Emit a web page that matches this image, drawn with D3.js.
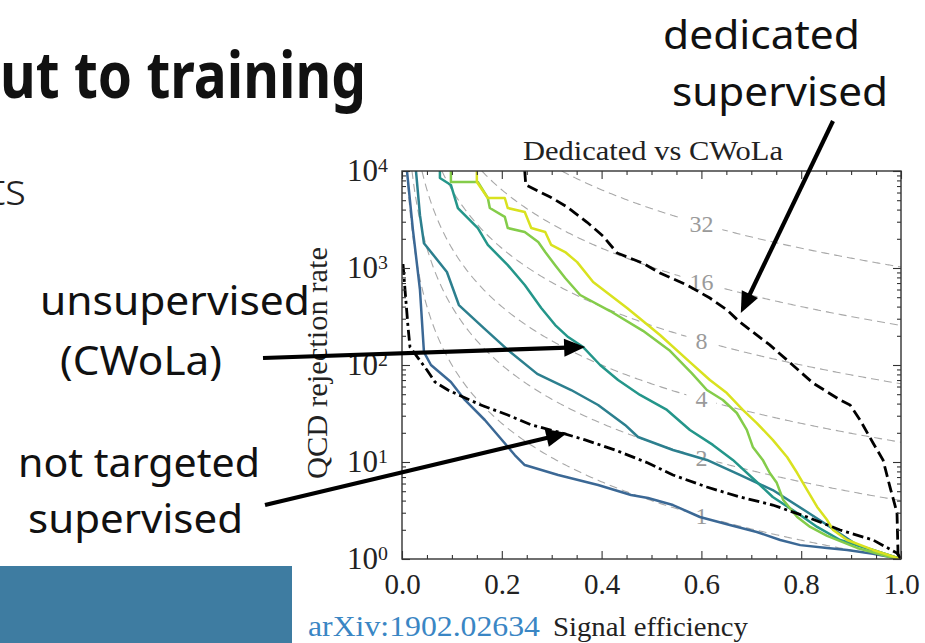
<!DOCTYPE html>
<html>
<head>
<meta charset="utf-8">
<script src="https://cdn.jsdelivr.net/npm/d3@7"></script>
<style>
  body { margin: 0; background: #fff; overflow: hidden; }
</style>
</head>
<body>
<div id="main"></div>
<script>
// ---- data: [signal efficiency, QCD rejection] ----
var cwola1 = [[0.010,10000],[0.022,2450],[0.036,595],[0.044,136],[0.058,100],[0.098,66.8],[0.126,43.6],[0.166,27.1],
  [0.226,11.8],[0.246,9.3],[0.313,7.35],[0.393,5.79],[0.459,4.57],[0.493,4.26],[0.543,3.6],[0.597,2.71],[0.657,2.24],
  [0.711,1.9],[0.758,1.57],[0.798,1.39],[0.852,1.3],[0.892,1.24],[0.944,1.13],[1.0,1.0]];
var cwola2 = [[0.028,10000],[0.036,3500],[0.044,1800],[0.090,910],[0.114,415],[0.164,240],[0.212,143],[0.271,81],
  [0.297,70],[0.339,55.2],[0.393,38.7],[0.447,24.1],[0.473,18.1],[0.543,13.3],[0.611,10.5],[0.677,7.35],[0.743,5.14],
  [0.812,3.05],[0.852,2.24],[0.912,1.39],[1.0,1.0]];
var cwola3 = [[0.076,10000],[0.076,8470],[0.098,7180],[0.112,4150],[0.152,2580],[0.172,1730],[0.212,1070],[0.246,668],
  [0.279,387],[0.307,258],[0.333,194],[0.363,153],[0.397,100],[0.433,70],[0.477,49.1],[0.531,34.4],[0.577,21.4],
  [0.623,15.0],[0.663,10.5],[0.711,6.22],[0.743,4.36],[0.798,2.84],[0.832,2.14],[0.878,1.57],[0.944,1.24],[1.0,1.0]];
var cwola4 = [[0.098,10000],[0.098,7700],[0.152,7700],[0.172,5270],[0.176,4150],[0.206,3360],[0.212,2580],[0.246,2350],
  [0.273,1850],[0.287,1460],[0.307,1070],[0.327,789],[0.357,527],[0.417,360],[0.483,225],[0.537,140],[0.581,82],
  [0.611,55.2],[0.643,43.6],[0.671,32],[0.691,21.4],[0.703,14.3],[0.723,10.5],[0.737,7.7],[0.751,6.1],[0.764,4.06],
  [0.792,2.71],[0.818,2.14],[0.852,1.73],[0.912,1.3],[0.978,1.05],[1.0,1.0]];
var cwola5 = [[0.150,10000],[0.150,7700],[0.172,5270],[0.206,5270],[0.212,4150],[0.246,3780],[0.259,2580],[0.287,2350],
  [0.299,1730],[0.327,1460],[0.351,1150],[0.383,718],[0.451,387],[0.517,204],[0.577,107],[0.617,70],[0.651,51.4],
  [0.683,34.4],[0.711,25.2],[0.743,16.9],[0.772,11.2],[0.792,7.7],[0.812,5.14],[0.832,3.44],[0.852,2.52],[0.864,1.99],
  [0.892,1.57],[0.944,1.24],[1.0,1.0]];
var dedicated = [[0.246,10000],[0.248,7180],[0.297,5400],[0.331,4250],[0.371,2960],[0.403,2130],[0.431,1430],[0.483,1120],
  [0.517,888],[0.571,668],[0.617,490],[0.651,370],[0.677,277],[0.737,161],[0.772,112],[0.824,65],[0.878,43.6],
  [0.898,38.7],[0.918,27.1],[0.944,15.7],[0.964,10.5],[0.978,5.5],[0.992,3.0],[0.994,1.15],[0.996,1.0]];
var notTargeted = [[0.002,1100],[0.006,600],[0.012,250],[0.016,153],[0.050,88.8],[0.066,66.8],[0.092,55.2],[0.158,38.7],
  [0.212,30.5],[0.259,24.1],[0.313,20.4],[0.367,16.9],[0.427,13.3],[0.493,9.77],[0.543,7.35],[0.611,5.52],[0.677,4.36],
  [0.743,3.6],[0.812,2.71],[0.878,1.99],[0.944,1.57],[0.992,1.15],[1.0,1.0]];

var cwolaSeries = [cwola1, cwola2, cwola3, cwola4, cwola5];
var cwolaColors = ["#3b6895", "#2c7f8e", "#24968a", "#84cc4a", "#d9e21f"];

// significance improvement contours eps_S * sqrt(R) = k
var sigLevels = [1, 2, 4, 8, 16, 32];
var sigLabelEff = 0.6;

var xMajor = [0, 0.2, 0.4, 0.6, 0.8, 1.0];
var yMajor = [1, 10, 100, 1000, 10000];

// annotation arrows: tip in data coords, tail in page px
var arrowTips = [[0.679, 344], [0.367, 153], [0.331, 19.9]];
var arrowTails = [[833, 121], [263, 358], [265, 505]];

var W = 925, H = 643;
var plot = {left: 402, right: 901, top: 171, bottom: 559};
var serif = "'Liberation Serif', 'DejaVu Serif', serif";
var sans = "'Noto Sans', 'Open Sans', sans-serif";

var svg = d3.select("#main")
  .append("svg")
    .attr("width", W)
    .attr("height", H);

svg.append("rect").attr("width", W).attr("height", H).attr("fill", "#fff");

var x = d3.scaleLinear().domain([0, 1]).range([plot.left, plot.right]);
var y = d3.scaleLog().domain([1, 1e4]).range([plot.bottom, plot.top]);

svg.append("clipPath").attr("id", "clip")
  .append("rect")
    .attr("x", plot.left).attr("y", plot.top)
    .attr("width", plot.right - plot.left).attr("height", plot.bottom - plot.top);

var line = d3.line()
  .x(function(d) { return x(d[0]); })
  .y(function(d) { return y(d[1]); });

var inner = svg.append("g").attr("clip-path", "url(#clip)");

// contour guides
sigLevels.forEach(function(k) {
  var pts = d3.range(0, 301).map(function(i) {
    var e = k / 100 + (1 - k / 100) * i / 300;
    return [e, (k / e) * (k / e)];
  }).filter(function(d) { return d[0] <= 1; });
  inner.append("path")
    .attr("d", line(pts))
    .attr("fill", "none")
    .attr("stroke", "#a8a8a8")
    .attr("stroke-width", 1.1)
    .attr("stroke-dasharray", "8,5");
});

var labelG = inner.append("g");
sigLevels.forEach(function(k) {
  var cx = x(sigLabelEff), cy = y((k / sigLabelEff) * (k / sigLabelEff));
  var w = String(k).length * 12 + 18;
  labelG.append("rect")
    .attr("x", cx - w / 2).attr("y", cy - 10)
    .attr("width", w).attr("height", 20)
    .attr("fill", "#fff");
  labelG.append("text")
    .attr("x", cx).attr("y", cy + 8)
    .attr("text-anchor", "middle")
    .attr("font-family", serif)
    .attr("font-size", 24)
    .attr("fill", "#9a9a9a")
    .text(k);
});

// CWoLa curves
cwolaSeries.forEach(function(s, i) {
  inner.append("path")
    .attr("d", line(s))
    .attr("fill", "none")
    .attr("stroke", cwolaColors[i])
    .attr("stroke-width", 2.5)
    .attr("stroke-linejoin", "round");
});

inner.append("path")
  .attr("d", line(notTargeted))
  .attr("fill", "none")
  .attr("stroke", "#000")
  .attr("stroke-width", 2.8)
  .attr("stroke-dasharray", "11,4,3,4");

inner.append("path")
  .attr("d", line(dedicated))
  .attr("fill", "none")
  .attr("stroke", "#000")
  .attr("stroke-width", 2.8)
  .attr("stroke-dasharray", "11,5");

// axes, ticks pointing in on all four sides
var yMinor = [];
[1, 10, 100, 1000].forEach(function(d) {
  for (var m = 2; m <= 9; m++) yMinor.push(d * m);
});
var xMinor = d3.range(0, 21).map(function(i) { return i / 20; })
  .filter(function(v) { return Math.round(v * 20) % 4 !== 0; });

function styleAxis(g) {
  g.select(".domain").remove();
  g.selectAll(".tick line").attr("stroke", "#333").attr("stroke-width", 1.1);
  g.attr("font-family", serif).attr("font-size", 29).attr("fill", "#222");
  g.selectAll(".tick text").attr("fill", "#222");
}

svg.append("g")
  .attr("transform", "translate(0," + plot.bottom + ")")
  .call(d3.axisBottom(x).tickValues(xMajor).tickSizeInner(-8).tickSizeOuter(0)
        .tickPadding(14).tickFormat(d3.format(".1f")))
  .call(styleAxis);
svg.append("g")
  .attr("transform", "translate(0," + plot.bottom + ")")
  .call(d3.axisBottom(x).tickValues(xMinor).tickSizeInner(-4).tickSizeOuter(0).tickFormat(""))
  .call(styleAxis);
svg.append("g")
  .attr("transform", "translate(0," + plot.top + ")")
  .call(d3.axisTop(x).tickValues(xMajor).tickSizeInner(-8).tickSizeOuter(0).tickFormat(""))
  .call(styleAxis);
svg.append("g")
  .attr("transform", "translate(0," + plot.top + ")")
  .call(d3.axisTop(x).tickValues(xMinor).tickSizeInner(-4).tickSizeOuter(0).tickFormat(""))
  .call(styleAxis);

var yAxisG = svg.append("g")
  .attr("transform", "translate(" + plot.left + ",0)")
  .call(d3.axisLeft(y).tickValues(yMajor).tickSizeInner(-8).tickSizeOuter(0).tickPadding(14))
  .call(styleAxis);
yAxisG.selectAll(".tick text")
  .attr("font-size", 31)
  .text(null)
  .each(function(d) {
    var t = d3.select(this);
    t.append("tspan").text("10");
    t.append("tspan").attr("dy", "-0.5em").attr("font-size", "0.64em").text(Math.round(Math.log10(d)));
  });
svg.append("g")
  .attr("transform", "translate(" + plot.left + ",0)")
  .call(d3.axisLeft(y).tickValues(yMinor).tickSizeInner(-4).tickSizeOuter(0).tickFormat(""))
  .call(styleAxis);
svg.append("g")
  .attr("transform", "translate(" + plot.right + ",0)")
  .call(d3.axisRight(y).tickValues(yMajor).tickSizeInner(-8).tickSizeOuter(0).tickFormat(""))
  .call(styleAxis);
svg.append("g")
  .attr("transform", "translate(" + plot.right + ",0)")
  .call(d3.axisRight(y).tickValues(yMinor).tickSizeInner(-4).tickSizeOuter(0).tickFormat(""))
  .call(styleAxis);

svg.append("rect")
  .attr("x", plot.left).attr("y", plot.top)
  .attr("width", plot.right - plot.left).attr("height", plot.bottom - plot.top)
  .attr("fill", "none")
  .attr("stroke", "#333")
  .attr("stroke-width", 1.4);

// chart texts
svg.append("text")
  .attr("x", 523).attr("y", 160)
  .attr("font-family", serif).attr("font-size", 27).attr("fill", "#222")
  .attr("textLength", 260).attr("lengthAdjust", "spacingAndGlyphs")
  .text("Dedicated vs CWoLa");

svg.append("text")
  .attr("transform", "translate(327,363) rotate(-90)")
  .attr("text-anchor", "middle")
  .attr("font-family", serif).attr("font-size", 29).attr("fill", "#222")
  .attr("textLength", 232).attr("lengthAdjust", "spacingAndGlyphs")
  .text("QCD rejection rate");

svg.append("text")
  .attr("x", 553).attr("y", 636)
  .attr("font-family", serif).attr("font-size", 28).attr("fill", "#222")
  .attr("textLength", 195).attr("lengthAdjust", "spacingAndGlyphs")
  .text("Signal efficiency");

svg.append("text")
  .attr("x", 308).attr("y", 636)
  .attr("font-family", serif).attr("font-size", 29).attr("fill", "#3a86c4")
  .attr("textLength", 232).attr("lengthAdjust", "spacingAndGlyphs")
  .text("arXiv:1902.02634");

// slide pieces around the chart
svg.append("rect")
  .attr("x", 0).attr("y", 566).attr("width", 292).attr("height", H - 566)
  .attr("fill", "#3e7ca1");

svg.append("text")
  .attr("x", 0).attr("y", 98)
  .attr("font-family", sans).attr("font-weight", 700).attr("font-size", 64).attr("fill", "#111")
  .attr("textLength", 366).attr("lengthAdjust", "spacingAndGlyphs")
  .text("ut to training");

svg.append("text")
  .attr("x", 26).attr("y", 205)
  .attr("text-anchor", "end")
  .attr("font-family", sans).attr("font-weight", 300).attr("font-size", 44).attr("fill", "#222")
  .text("ts");

var callouts = [
  {text: "dedicated", x: 663, y: 49, w: 197},
  {text: "supervised", x: 672, y: 106, w: 216},
  {text: "unsupervised", x: 40, y: 315, w: 270},
  {text: "(CWoLa)", x: 60, y: 375, w: 162},
  {text: "not targeted", x: 18, y: 477, w: 242},
  {text: "supervised", x: 28, y: 533, w: 215}
];
svg.selectAll(".callout")
  .data(callouts)
  .enter().append("text")
    .attr("class", "callout")
    .attr("x", function(d) { return d.x; })
    .attr("y", function(d) { return d.y; })
    .attr("font-family", sans).attr("font-size", 40).attr("fill", "#111")
    .attr("textLength", function(d) { return d.w; })
    .attr("lengthAdjust", "spacingAndGlyphs")
    .text(function(d) { return d.text; });

// arrows
arrowTips.forEach(function(tip, i) {
  var x1 = x(tip[0]), y1 = y(tip[1]);
  var x0 = arrowTails[i][0], y0 = arrowTails[i][1];
  var dx = x1 - x0, dy = y1 - y0, L = Math.hypot(dx, dy);
  var ux = dx / L, uy = dy / L;
  var hl = 21, hw = 9;
  var bx = x1 - ux * hl, by = y1 - uy * hl;
  svg.append("line")
    .attr("x1", x0).attr("y1", y0)
    .attr("x2", bx + ux * 3).attr("y2", by + uy * 3)
    .attr("stroke", "#000").attr("stroke-width", 4.2);
  svg.append("path")
    .attr("d", "M" + x1 + "," + y1 +
               "L" + (bx - uy * hw) + "," + (by + ux * hw) +
               "L" + (bx + uy * hw) + "," + (by - ux * hw) + "Z")
    .attr("fill", "#000");
});
</script>
</body>
</html>
